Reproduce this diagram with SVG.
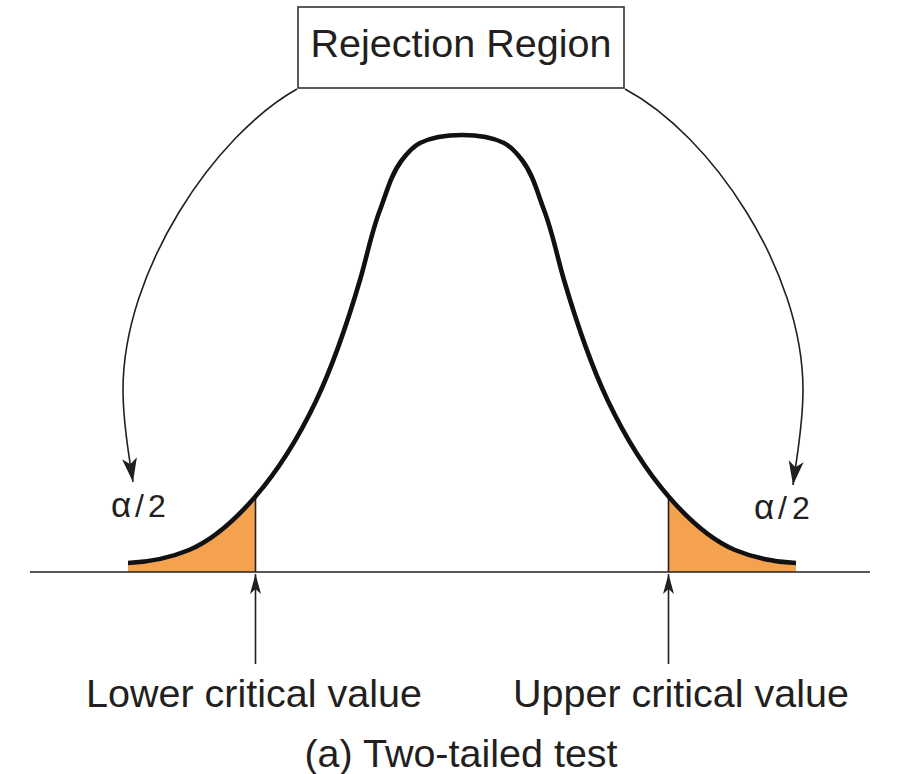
<svg xmlns="http://www.w3.org/2000/svg" width="902" height="774" viewBox="0 0 902 774">
<defs>
<style>
.txt{font-family:"Liberation Sans",Arial,sans-serif;fill:#231f20;}
.lbl{font-size:39.5px;}
.alpha{font-size:32px;}
.thin{fill:none;stroke:#231f20;stroke-width:1.6;}
.arc{fill:none;stroke:#231f20;stroke-width:1.6;}
.bell{fill:none;stroke:#111;stroke-width:4.6;stroke-linecap:butt;stroke-linejoin:round;}
.tail{fill:#F5A24E;stroke:none;}
.box{fill:#fff;stroke:#333;stroke-width:1.6;}
</style>
<marker id="ahBig" viewBox="-26 -9 28 18" markerWidth="28" markerHeight="18" refX="0" refY="0" orient="auto" markerUnits="userSpaceOnUse">
<path d="M0,0 L-24,-7.5 L-18,0 L-24,7.5 Z" fill="#231f20"/>
</marker>
<marker id="ahSmall" viewBox="-22 -7 24 14" markerWidth="24" markerHeight="14" refX="0" refY="0" orient="auto" markerUnits="userSpaceOnUse">
<path d="M0,0 L-20,-5.5 L-15,0 L-20,5.5 Z" fill="#231f20"/>
</marker>
</defs>
<rect width="902" height="774" fill="#fff"/>

<g id="tails">
<path class="tail" d="M128,572 L128,563 C148.8,562 169.8,558 189,550 C215,539.1 236.5,518.3 255,497 L255,572 Z"/>
<path class="tail" d="M669,572 L669,497 C687.5,518.3 709,539.1 735,550 C754.2,558 775.2,562 796,563 L796,572 Z"/>
</g>

<g id="axis">
<line class="thin" x1="30" y1="572" x2="870" y2="572"/>
<line class="thin" x1="255.5" y1="497" x2="255.5" y2="572"/>
<line class="thin" x1="668.5" y1="497" x2="668.5" y2="572"/>
</g>

<g id="bell-curve">
<path class="bell" d="M128,563 C148.8,562 169.8,558 189,550 C215,539.1 236.5,518.3 255,497 C279.9,468.4 299.7,435.2 316,401 C334.4,362.3 347.9,321.1 360,280 C366.9,256.7 371.3,232.7 380,210 C386.5,193 390.9,174.4 402,160 C407.1,153.4 412.6,146.7 420,143 C432.8,136.6 447.7,135 462,135 C476.3,135 491.2,136.6 504,143 C511.4,146.7 516.9,153.4 522,160 C533.1,174.4 537.5,193 544,210 C552.7,232.7 557.1,256.7 564,280 C576.1,321.1 589.6,362.3 608,401 C624.3,435.2 644.1,468.4 669,497 C687.5,518.3 709,539.1 735,550 C754.2,558 775.2,562 796,563"/>
</g>

<g id="rejection-region">
<rect class="box" x="298" y="7" width="326" height="81"/>
<text class="txt lbl" x="461" y="57" text-anchor="middle">Rejection Region</text>
</g>

<g id="connectors">
<path class="arc" d="M297,89 C215,135 123,270 123,390 C123,425 129,455 133,482" marker-end="url(#ahBig)"/>
<path class="arc" d="M625,89 C711,135 803,270 803,390 C803,425 797,455 793,485" marker-end="url(#ahBig)"/>
<line class="thin" x1="255.5" y1="664" x2="255.5" y2="574" marker-end="url(#ahSmall)"/>
<line class="thin" x1="668.5" y1="664" x2="668.5" y2="574" marker-end="url(#ahSmall)"/>
</g>

<g id="alpha-left">
<text class="txt alpha" y="517"><tspan x="111" style="font-size:35px">α</tspan><tspan x="135">/</tspan><tspan x="148">2</tspan></text>
</g>
<g id="alpha-right">
<text class="txt alpha" y="519"><tspan x="754" style="font-size:35px">α</tspan><tspan x="778">/</tspan><tspan x="792">2</tspan></text>
</g>

<g id="lower-critical">
<text class="txt lbl" x="254" y="707" text-anchor="middle">Lower critical value</text>
</g>
<g id="upper-critical">
<text class="txt lbl" x="681" y="707" text-anchor="middle">Upper critical value</text>
</g>
<g id="caption">
<text class="txt lbl" x="461" y="767" text-anchor="middle">(a) Two-tailed test</text>
</g>
</svg>
